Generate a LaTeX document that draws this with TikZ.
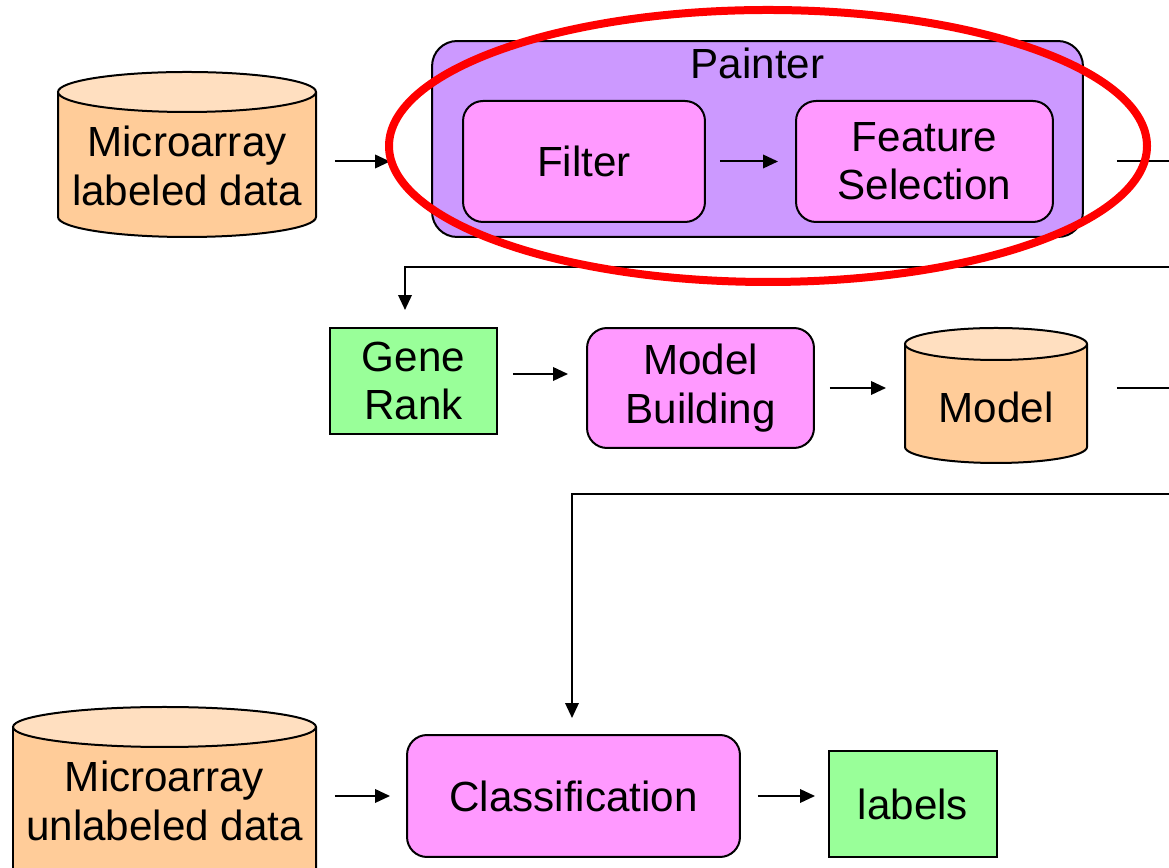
\documentclass[tikz,border=0pt]{standalone}
\usepackage{fontspec}
\setmainfont{Liberation Sans}
\usetikzlibrary{arrows.meta,calc}

\definecolor{cylbody}{HTML}{FFCC99}
\definecolor{cyltop}{HTML}{FFDFC0}
\definecolor{painterbg}{HTML}{CC99FF}
\definecolor{procbg}{HTML}{FF99FF}
\definecolor{resultbg}{HTML}{99FF99}
\definecolor{ringred}{HTML}{FF0000}

\tikzset{
  edge/.style={draw=black, line width=0.04cm},
  txt/.style={font=\fontsize{24}{27.5}\selectfont, align=center, inner sep=0pt, outer sep=0pt},
  procbox/.style={txt, edge, fill=procbg, rounded corners=0.4cm},
  resultbox/.style={txt, edge, fill=resultbg},
  groupbox/.style={edge, fill=painterbg, rounded corners=0.5cm, inner sep=0pt, outer sep=0pt},
  arr/.style={edge, -{Triangle[length=0.3cm,width=0.27cm]}},
}

% database cylinder: centre x, x radius, top ellipse y, bottom ellipse y, y radius
\newcommand\dbcylinder[5]{%
  \fill[cylbody] ({#1-#2},#3) -- ({#1-#2},#4)
    arc[start angle=180,end angle=360,x radius=#2,y radius=#5] -- ({#1+#2},#3) -- cycle;
  \draw[edge] ({#1-#2},#3) -- ({#1-#2},#4)
    arc[start angle=180,end angle=360,x radius=#2,y radius=#5] -- ({#1+#2},#3);
  \filldraw[edge, fill=cyltop] (#1,#3) ellipse[x radius=#2,y radius=#5];
}

\begin{document}
\begin{tikzpicture}[x=0.02cm,y=0.02cm]
\useasboundingbox (0,0) rectangle (1169,868);
\clip (0,0) rectangle (1169,868);

% data stores
\dbcylinder{187}{129}{776}{651}{20}
\dbcylinder{996}{91}{524}{421}{16}
\dbcylinder{164.5}{151.5}{141}{-14}{20}

\node[txt, minimum width=5.16cm] (dataA) at (187,702) {Microarray\\labeled data};
\node[txt, minimum width=3.64cm] (model) at (996,461) {Model};
\node[txt, minimum width=6.06cm] (dataB) at (164.5,67) {Microarray\\unlabeled data};

% Painter group
\node[groupbox, minimum width=13.02cm, minimum height=3.92cm] (painter) at (757.5,729) {};
\node[txt] (painterlabel) at (757.5,805) {Painter};
\node[procbox, minimum width=4.84cm, minimum height=2.42cm] (filter) at (584,706.5) {Filter};
\node[procbox, minimum width=5.14cm, minimum height=2.42cm] (feature) at (924.5,706.5) {Feature\\Selection};

% model stage
\node[resultbox, minimum width=3.34cm, minimum height=2.12cm] (generank) at (413.5,487) {Gene\\Rank};
\node[procbox, minimum width=4.54cm, minimum height=2.40cm] (modelb) at (700.5,480) {Model\\Building};

% classification stage
\node[procbox, minimum width=6.66cm, minimum height=2.44cm] (classif) at (573.5,72) {Classification};
\node[resultbox, minimum width=3.36cm, minimum height=2.12cm] (labels) at (913,64) {labels};

% turning points of the return lines
\coordinate (rowA) at (405,601);
\coordinate (rowB) at (572,374);

% connectors
\draw[arr] ($(dataA.east |- filter.west)+(19,0)$) -- ($(painter.west |- filter.west)+(-42,0)$);
\draw[arr] ($(filter.east)+(15,0)$) -- ($(feature.west)+(-18,0)$);
\draw[arr, shorten >=0.36cm] ($(painter.east |- feature.east)+(34,0)$) -- ($(painter.east |- feature.east)+(140,0)$)
  |- (rowA) -- (rowA |- generank.north);
\draw[arr] ($(generank.east)+(16,7)$) -- ($(generank.east -| modelb.west)+(-19,7)$);
\draw[arr] ($(modelb.east)+(16,0)$) -- ($(modelb.east -| model.west)+(-19,0)$);
\draw[arr, shorten >=0.34cm] ($(model.east |- modelb.east)+(30,0)$) -- ($(model.east |- modelb.east)+(140,0)$)
  |- (rowB) -- (rowB |- classif.north);
\draw[arr] ($(dataB.east |- classif.west)+(19,0)$) -- ($(classif.west)+(-17,0)$);
\draw[arr] ($(classif.east)+(18,0)$) -- ($(classif.east -| labels.west)+(-14,0)$);

% highlight ring
\draw[ringred, line width=0.16cm] (768,722) ellipse[x radius=379, y radius=136];
\end{tikzpicture}
\end{document}
